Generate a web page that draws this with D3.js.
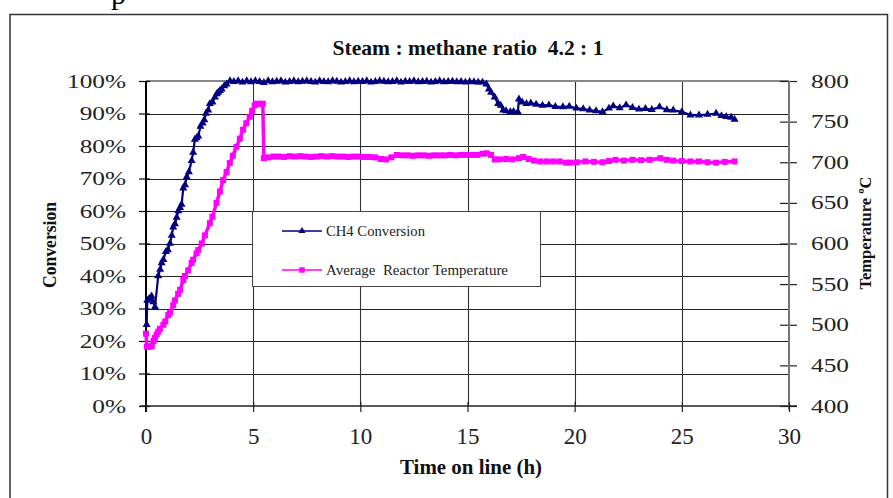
<!DOCTYPE html>
<html>
<head>
<meta charset="utf-8">
<script src="https://cdn.jsdelivr.net/npm/d3@7"></script>
<style>
  body { margin: 0; background: #fff; }
  svg { display: block; font-family: "Liberation Serif", "Times New Roman", serif; }
</style>
</head>
<body>
<div id="chart"></div>
<script>
// CH4 conversion (fraction) vs time on line (h)
var convTime = [0.03, 0.06, 0.15, 0.26, 0.34, 0.42, 0.57, 0.66, 0.73, 0.81, 0.93, 1.02, 1.12, 1.20, 1.27, 1.35,
  1.43, 1.51, 1.59, 1.66, 1.74, 1.82, 1.90, 2.00, 2.13, 2.20, 2.28, 2.36, 2.44, 2.54, 2.64, 2.72, 2.80, 2.90,
  2.98, 3.10, 3.22, 3.30, 3.37, 3.45, 3.53, 3.65, 3.76, 3.92,
  4.1, 4.3, 4.5, 4.7, 4.9, 5.1, 5.3, 5.5, 5.7, 5.9, 6.1, 6.3, 6.5, 6.7, 6.9, 7.1, 7.3, 7.5, 7.7, 7.9, 8.1,
  8.3, 8.5, 8.7, 8.9, 9.1, 9.3, 9.5, 9.7, 9.9, 10.1, 10.3, 10.5, 10.7, 10.9, 11.1, 11.3, 11.5, 11.7, 11.9,
  12.1, 12.3, 12.5, 12.7, 12.9, 13.1, 13.3, 13.5, 13.7, 13.9, 14.1, 14.3, 14.5, 14.7, 14.9, 15.1, 15.3, 15.5,
  15.7, 15.88, 16.0, 16.1, 16.27, 16.43, 16.55, 16.66, 16.8, 17.0, 17.15, 17.35, 17.4, 17.55, 17.75, 17.95,
  18.2, 18.5, 18.8, 19.1, 19.45, 19.75, 20.08, 20.4, 20.7, 21.0, 21.3, 21.6, 21.8, 22.1, 22.4, 22.7, 23.0,
  23.3, 23.6, 23.96, 24.3, 24.6, 25.0, 25.4, 25.8, 26.2, 26.6, 26.85, 27.07, 27.3, 27.46];
var convValue = [0.25, 0.325, 0.33, 0.338, 0.32, 0.305, 0.40, 0.42, 0.44, 0.45, 0.475, 0.48, 0.50, 0.525, 0.55, 0.56,
  0.58, 0.60, 0.61, 0.62, 0.67, 0.68, 0.705, 0.72, 0.755, 0.78, 0.82, 0.825, 0.83, 0.86, 0.87, 0.88, 0.90, 0.91,
  0.93, 0.935, 0.95, 0.96, 0.965, 0.97, 0.975, 0.985, 0.99, 1.0,
  0.998, 1.0, 0.996, 1.0, 0.997, 1.0, 0.998, 0.995, 1.0, 0.997, 0.999, 1.0, 0.996, 0.998, 1.0, 0.997, 0.999, 1.0, 0.998, 0.996, 1.0,
  0.998, 0.997, 1.0, 0.999, 0.996, 0.998, 1.0, 0.997, 0.999, 0.998, 1.0, 0.996, 0.998, 1.0, 0.999, 0.997, 0.998, 1.0, 0.996,
  0.999, 0.998, 1.0, 0.997, 0.998, 0.999, 0.996, 0.998, 1.0, 0.997, 0.998, 0.999, 0.997, 0.998, 0.996, 0.998, 0.997, 0.996,
  0.996, 0.99, 0.975, 0.965, 0.95, 0.93, 0.925, 0.91, 0.908, 0.905, 0.906, 0.905, 0.944, 0.935, 0.93, 0.932,
  0.928, 0.925, 0.926, 0.921, 0.92, 0.922, 0.916, 0.914, 0.91, 0.908, 0.905, 0.916, 0.923, 0.917, 0.926, 0.918, 0.913,
  0.915, 0.912, 0.92, 0.911, 0.91, 0.905, 0.895, 0.895, 0.897, 0.90, 0.893, 0.89, 0.888, 0.882];

// Average reactor temperature (°C) vs time on line (h)
var tempTime = [0.0, 0.04, 0.12, 0.2, 0.27, 0.35, 0.42, 0.5, 0.57, 0.65, 0.81, 0.9, 1.04, 1.12, 1.27, 1.35, 1.5,
  1.59, 1.74, 1.82, 1.97, 2.13, 2.2, 2.36, 2.44, 2.6, 2.75, 2.98, 3.1, 3.29, 3.45, 3.6, 3.76, 3.91, 4.05, 4.22,
  4.38, 4.53, 4.68, 4.84, 4.95, 5.07, 5.15, 5.3, 5.45, 5.5,
  5.7, 5.95, 6.2, 6.45, 6.7, 6.95, 7.2, 7.45, 7.7, 7.95, 8.2, 8.45, 8.7, 8.95, 9.2, 9.45, 9.7, 9.95, 10.2,
  10.45, 10.7, 10.95, 11.2, 11.45, 11.7, 11.95, 12.2, 12.45, 12.7, 12.95, 13.2, 13.45, 13.7, 13.95, 14.2, 14.45,
  14.7, 14.95, 15.2, 15.45, 15.7, 15.9, 16.1, 16.27, 16.5, 16.8, 17.1, 17.4, 17.6, 17.85, 18.1, 18.4, 18.7,
  19.0, 19.3, 19.6, 19.8, 20.1, 20.5, 20.9, 21.3, 21.6, 21.9, 22.3, 22.7, 23.1, 23.5, 24.0, 24.3, 24.6, 25.0,
  25.4, 25.8, 26.2, 26.6, 27.0, 27.46];
var tempValue = [489, 473, 473, 473, 474, 480, 484, 488, 491.5, 495, 500, 504, 512, 515, 524, 530, 538,
  543, 555, 560, 567, 576, 580, 588, 592, 600, 610, 625, 633, 650, 664, 678, 688, 699, 708, 719,
  729, 740, 748, 756, 763, 770, 772, 772, 772, 705,
  706, 707, 707, 706.5, 707.5, 707, 707.5, 707, 706.5, 707, 707.5, 707, 707.5, 707, 707, 706.5, 707, 707, 706.5,
  706.5, 706, 704, 703.5, 706, 709, 708.5, 708.5, 708, 708.5, 708.5, 708, 708.5, 708.5, 708.5, 709, 708.5,
  709, 709, 709, 709, 710.5, 711, 709, 703.5, 703.5, 704, 703.5, 705, 706.5, 704, 702, 701, 701,
  701, 701, 699.5, 699.5, 700, 701, 700.5, 700, 701.5, 703, 702, 703, 702.5, 703, 705, 703, 702, 701.5,
  701, 701, 700, 699.5, 700.5, 701];

var xTicks = [0, 5, 10, 15, 20, 25, 30];
var convTicks = [0, 0.1, 0.2, 0.3, 0.4, 0.5, 0.6, 0.7, 0.8, 0.9, 1.0];
var tempTicks = [400, 450, 500, 550, 600, 650, 700, 750, 800];

var W = 893, H = 498;
var plotLeft = 146, plotRight = 789, plotTop = 81, plotBottom = 406;

var svg = d3.select("#chart").append("svg")
  .attr("width", W)
  .attr("height", H);

// stretch helpers (the source image is wider than a normal Times face)
function stretch(sel, k) {
  sel.each(function () {
    var w = this.getComputedTextLength();
    this.setAttribute("textLength", w * k);
    this.setAttribute("lengthAdjust", "spacingAndGlyphs");
  });
}
function fit(sel, w) {
  sel.attr("textLength", w).attr("lengthAdjust", "spacingAndGlyphs");
}

// outer frame and stray letter from the page above
svg.append("rect")
  .attr("x", 10).attr("y", 14.5)
  .attr("width", 877.5).attr("height", 520)
  .attr("fill", "none").attr("stroke", "#333").attr("stroke-width", 1.5);
svg.append("text").attr("x", 111).attr("y", 4)
  .attr("font-size", 30).text("p");

var x = d3.scaleLinear().domain([0, 30]).range([plotLeft, plotRight]);
var yL = d3.scaleLinear().domain([0, 1]).range([plotBottom, plotTop]);
var yR = d3.scaleLinear().domain([400, 800]).range([plotBottom, plotTop]);

// grid
var grid = svg.append("g");
grid.selectAll("line.h")
  .data(convTicks.slice(1, -1))
  .join("line")
  .attr("x1", plotLeft).attr("x2", plotRight)
  .attr("y1", d => Math.round(yL(d)) + 0.5).attr("y2", d => Math.round(yL(d)) + 0.5)
  .attr("stroke", "#222").attr("stroke-width", 1.2);
grid.selectAll("line.v")
  .data(xTicks.slice(1, -1))
  .join("line")
  .attr("x1", d => Math.round(x(d)) + 0.5).attr("x2", d => Math.round(x(d)) + 0.5)
  .attr("y1", plotTop).attr("y2", plotBottom)
  .attr("stroke", "#333").attr("stroke-width", 1.1);

// top border of plot area
svg.append("line")
  .attr("x1", plotLeft).attr("x2", plotRight).attr("y1", plotTop).attr("y2", plotTop)
  .attr("stroke", "#888").attr("stroke-width", 2);

// left axis
var gL = svg.append("g").attr("transform", `translate(${plotLeft},0)`)
  .call(d3.axisLeft(yL).tickValues(convTicks).tickFormat(d3.format(".0%")).tickSize(7).tickPadding(13));
gL.select(".domain").remove();
gL.append("line").attr("x1", 0).attr("x2", 0).attr("y1", plotTop).attr("y2", plotBottom + 6)
  .attr("stroke", "#000").attr("stroke-width", 2);
gL.selectAll(".tick line").attr("x1", 4).attr("stroke", "#000").attr("stroke-width", 1.2);
gL.selectAll(".tick text")
  .attr("font-family", "Liberation Serif").attr("font-size", 19).attr("fill", "#222")
  .call(stretch, 1.33);

// right axis
var gR = svg.append("g").attr("transform", `translate(${plotRight},0)`)
  .call(d3.axisRight(yR).tickValues(tempTicks).tickSize(8).tickPadding(14));
gR.select(".domain").remove();
gR.append("line").attr("x1", 0).attr("x2", 0).attr("y1", plotTop).attr("y2", plotBottom + 4)
  .attr("stroke", "#777").attr("stroke-width", 2);
gR.selectAll(".tick line").attr("x1", -9).attr("stroke", "#222").attr("stroke-width", 1.2);
gR.selectAll(".tick text")
  .attr("font-family", "Liberation Serif").attr("font-size", 19).attr("fill", "#222")
  .call(stretch, 1.33);

// bottom axis
var gB = svg.append("g").attr("transform", `translate(0,${plotBottom})`)
  .call(d3.axisBottom(x).tickValues(xTicks).tickSize(6).tickPadding(16));
gB.select(".domain").remove();
gB.append("line").attr("x1", plotLeft - 6).attr("x2", plotRight + 8).attr("y1", 0).attr("y2", 0)
  .attr("stroke", "#222").attr("stroke-width", 1.5);
gB.selectAll(".tick line").attr("y1", -4).attr("stroke", "#222").attr("stroke-width", 1.2);
gB.selectAll(".tick text")
  .attr("font-family", "Liberation Serif").attr("font-size", 23).attr("fill", "#222");

// series
var convData = convTime.map((t, i) => ({ t: t, v: convValue[i] }));
var tempData = tempTime.map((t, i) => ({ t: t, v: tempValue[i] }));

var navy = "#000080", magenta = "#ff00ff";

svg.append("path")
  .datum(tempData)
  .attr("fill", "none").attr("stroke", magenta).attr("stroke-width", 3.5)
  .attr("stroke-linejoin", "round")
  .attr("d", d3.line().x(d => x(d.t)).y(d => yR(d.v)));
svg.append("g").selectAll("path")
  .data(tempData)
  .join("path")
  .attr("transform", d => `translate(${x(d.t)},${yR(d.v)})`)
  .attr("d", d3.symbol(d3.symbolSquare, 36))
  .attr("fill", magenta);

svg.append("path")
  .datum(convData)
  .attr("fill", "none").attr("stroke", navy).attr("stroke-width", 2.2)
  .attr("stroke-linejoin", "round")
  .attr("d", d3.line().x(d => x(d.t)).y(d => yL(d.v)));
svg.append("g").selectAll("path")
  .data(convData)
  .join("path")
  .attr("transform", d => `translate(${x(d.t)},${yL(d.v)})`)
  .attr("d", d3.symbol(d3.symbolTriangle, 28))
  .attr("fill", navy);

// legend
var lg = svg.append("g");
lg.append("rect").attr("x", 252.5).attr("y", 211.5).attr("width", 288).attr("height", 75)
  .attr("fill", "#fff").attr("stroke", "#444").attr("stroke-width", 1);
var legendItems = [
  { label: "CH4 Conversion", color: navy, sym: d3.symbolTriangle, size: 22, y: 231, w: 99, sw: 1.3 },
  { label: "Average  Reactor Temperature", color: magenta, sym: d3.symbolSquare, size: 30, y: 270, w: 182, sw: 1.5 }
];
legendItems.forEach(function (it) {
  lg.append("line").attr("x1", 282).attr("x2", 322).attr("y1", it.y).attr("y2", it.y)
    .attr("stroke", it.color).attr("stroke-width", it.sw);
  lg.append("path").attr("transform", `translate(302,${it.y})`)
    .attr("d", d3.symbol(it.sym, it.size)).attr("fill", it.color);
  lg.append("text").attr("x", 326).attr("y", it.y + 5)
    .attr("font-size", 14).attr("fill", "#222")
    .style("white-space", "pre")
    .text(it.label)
    .call(fit, it.w);
});

// titles
svg.append("text")
  .attr("x", 468).attr("y", 55).attr("text-anchor", "middle")
  .attr("font-size", 21).attr("font-weight", "bold").attr("fill", "#111")
  .style("white-space", "pre")
  .text("Steam : methane ratio  4.2 : 1")
  .call(fit, 271);

svg.append("text")
  .attr("x", 471).attr("y", 474).attr("text-anchor", "middle")
  .attr("font-size", 20).attr("font-weight", "bold").attr("fill", "#111")
  .text("Time on line (h)")
  .call(fit, 142);

svg.append("text")
  .attr("transform", "translate(56,245) rotate(-90)")
  .attr("text-anchor", "middle")
  .attr("font-size", 18).attr("font-weight", "bold").attr("fill", "#111")
  .text("Conversion")
  .call(fit, 86);

svg.append("text")
  .attr("transform", "translate(871,233) rotate(-90)")
  .attr("text-anchor", "middle")
  .attr("font-size", 17).attr("font-weight", "bold").attr("fill", "#111")
  .text("Temperature ºC")
  .call(fit, 113);
</script>
</body>
</html>
